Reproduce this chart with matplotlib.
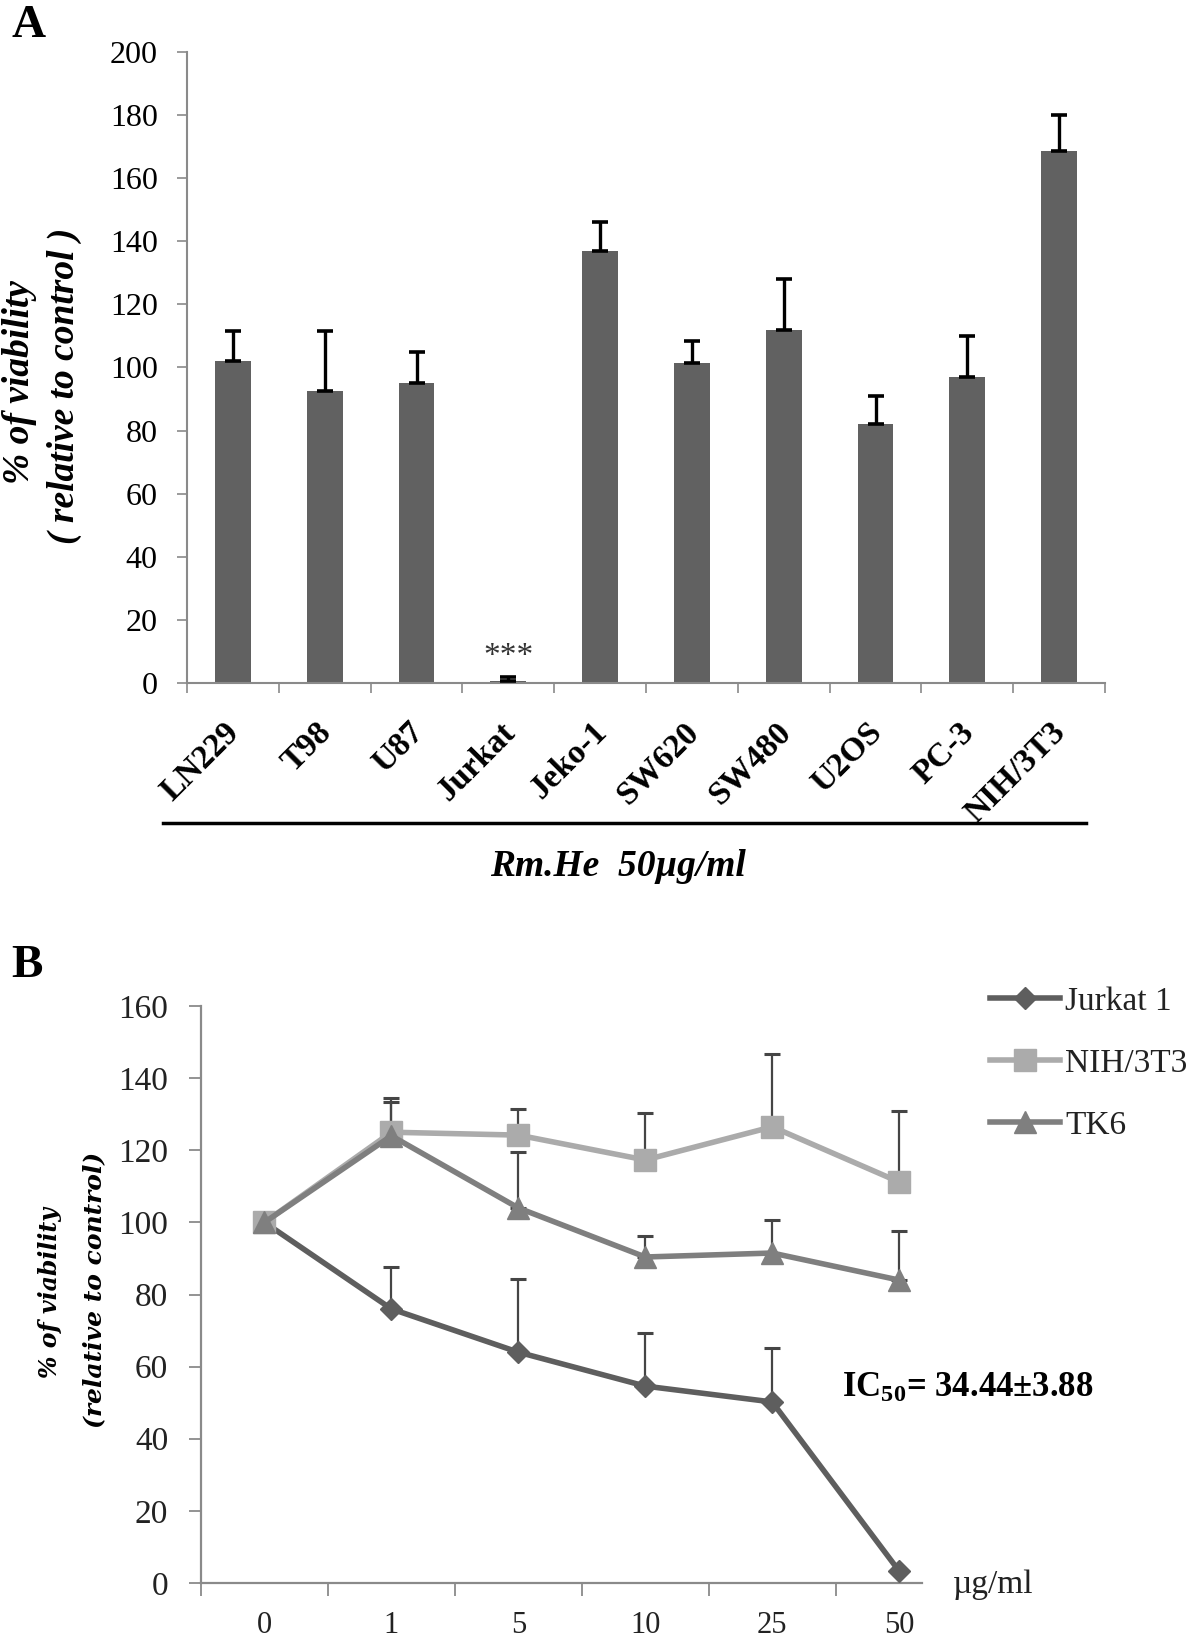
import matplotlib
matplotlib.use("Agg")
import matplotlib.pyplot as plt
import matplotlib.transforms as mtransforms
from matplotlib.lines import Line2D
import numpy as np

plt.rcParams['font.family'] = ['Liberation Serif', 'DejaVu Serif']
plt.rcParams['mathtext.fontset'] = 'custom'
plt.rcParams['mathtext.rm'] = 'Liberation Serif:bold'
plt.rcParams['mathtext.it'] = 'Liberation Serif:bold'
plt.rcParams['mathtext.bf'] = 'Liberation Serif:bold'
plt.rcParams['mathtext.default'] = 'rm'

# ---------------- Data: panel A ----------------
cell_lines = ["LN229", "T98", "U87", "Jurkat", "Jeko-1", "SW620", "SW480", "U2OS", "PC-3", "NIH/3T3"]
viability_a = [102, 92.5, 95, 0.5, 137, 101.5, 112, 82, 97, 168.5]
sd_a = [9.5, 19, 10, 1.5, 9, 7, 16, 9, 13, 11.5]
yticks_a = [0, 20, 40, 60, 80, 100, 120, 140, 160, 180, 200]

# ---------------- Data: panel B ----------------
doses = ["0", "1", "5", "10", "25", "50"]
jurkat_b = [100, 76, 64, 54.6, 50.2, 3.3]
jurkat_sd = [0, 11.6, 20.3, 14.7, 15, 0]
nih_b = [100, 125, 124.2, 117.3, 126.5, 111.2]
nih_sd = [0, 9.5, 7.3, 13, 20.2, 19.7]
tk6_b = [100, 124, 104, 90.4, 91.5, 84]
tk6_sd = [0, 9.4, 15.5, 5.8, 9.2, 13.6]
yticks_b = [0, 20, 40, 60, 80, 100, 120, 140, 160]

W, H = 1200, 1641
fig = plt.figure(figsize=(W / 100, H / 100), dpi=100)


def fx(x):
    return x / W


def fy(y):
    return 1 - y / H


spine_col = '#8a8a8a'

# ---------------- Panel A ----------------
axA = fig.add_axes([fx(187), fy(683), (1105 - 187) / W, (683 - 52) / H])
xa = np.arange(len(cell_lines))
axA.bar(xa, viability_a, width=0.39, color='#616161', zorder=2)
axA.errorbar(xa, viability_a, yerr=[np.zeros(len(sd_a)), sd_a], fmt='none',
             ecolor='black', elinewidth=2.4, capsize=5.5, capthick=2.6, zorder=3)
axA.set_xlim(-0.5, len(cell_lines) - 0.5)
axA.set_ylim(0, 200)
axA.set_yticks(yticks_a)
axA.set_yticklabels([str(v) for v in yticks_a], fontsize=23)
for s in ['top', 'right']:
    axA.spines[s].set_visible(False)
for s in ['left', 'bottom']:
    axA.spines[s].set_color(spine_col)
    axA.spines[s].set_linewidth(1.5)
axA.tick_params(axis='y', direction='out', length=7, width=1.2, color=spine_col, pad=14)
axA.set_xticks(xa)
axA.set_xticklabels(cell_lines, rotation=45, ha='right', va='center',
                    rotation_mode='anchor', fontsize=24, fontweight='bold')
axA.tick_params(axis='x', which='major', length=0, pad=32)
axA.set_xticks(np.arange(-0.5, len(cell_lines), 1.0), minor=True)
axA.tick_params(axis='x', which='minor', direction='out', length=7.5, width=1.2, color=spine_col)
off = mtransforms.ScaledTranslation(0.02, 0, fig.dpi_scale_trans)
for lab in axA.get_xticklabels():
    lab.set_transform(lab.get_transform() + off)
axA.text(3, viability_a[3] + sd_a[3] + 1.5, "***", ha='center', va='bottom',
         fontsize=24, color='#333333')

fig.text(fx(20), fy(382), "% of viability", rotation=90, ha='center', va='center',
         fontsize=27, fontweight='bold', fontstyle='italic')
fig.text(fx(64), fy(386), "( relative to control )", rotation=90, ha='center', va='center',
         fontsize=27, fontweight='bold', fontstyle='italic')
fig.add_artist(Line2D([fx(163), fx(1086)], [fy(823), fy(823)], color='black', lw=2.5))
fig.text(fx(618), fy(866), "Rm.He  50µg/ml", ha='center', va='center',
         fontsize=27, fontweight='bold', fontstyle='italic')
fig.text(fx(11), fy(26), "A", ha='left', va='center', fontsize=34, fontweight='bold')

# ---------------- Panel B ----------------
axB = fig.add_axes([fx(201), fy(1583), (922 - 201) / W, (1583 - 1006) / H])
xb = np.arange(len(doses))
ekw = dict(fmt='none', ecolor='#454545', elinewidth=1.6, capsize=6, capthick=2.2, zorder=2)
axB.errorbar(xb, jurkat_b, yerr=[np.zeros(len(xb)), jurkat_sd], **ekw)
axB.errorbar(xb, nih_b, yerr=[np.zeros(len(xb)), nih_sd], **ekw)
axB.errorbar(xb, tk6_b, yerr=[np.zeros(len(xb)), tk6_sd], **ekw)
axB.plot(xb, jurkat_b, color='#5e5e5e', lw=4, marker='D', markersize=11, label='Jurkat 1', zorder=3)
axB.plot(xb, nih_b, color='#ababab', lw=4, marker='s', markersize=16, label='NIH/3T3', zorder=4)
axB.plot(xb, tk6_b, color='#7f7f7f', lw=4, marker='^', markersize=16, label='TK6', zorder=5)
axB.set_xlim(-0.5, 5.18)
axB.set_ylim(0, 160)
axB.set_yticks(yticks_b)
axB.set_yticklabels([str(v) for v in yticks_b], fontsize=24, color='#222222')
for s in ['top', 'right']:
    axB.spines[s].set_visible(False)
for s in ['left', 'bottom']:
    axB.spines[s].set_color(spine_col)
    axB.spines[s].set_linewidth(1.6)
axB.tick_params(axis='y', direction='out', length=8.6, width=1.3, color=spine_col, pad=15)
axB.set_xticks(xb)
axB.set_xticklabels(doses, fontsize=22, color='#222222')
axB.tick_params(axis='x', which='major', length=0, pad=20)
axB.set_xticks(np.arange(-0.5, 5.0, 1.0), minor=True)
axB.tick_params(axis='x', which='minor', direction='out', length=9.5, width=1.3, color=spine_col)

leg = axB.legend(loc='upper left', bbox_to_anchor=(fx(990), fy(986)),
                 bbox_transform=fig.transFigure, frameon=False, fontsize=24,
                 handlelength=2.1, handletextpad=0.15, labelspacing=0.95,
                 borderpad=0, borderaxespad=0)
for t in leg.get_texts():
    t.set_color('#222222')

fig.text(fx(842), fy(1388), "IC$_{50}$= 34.44±3.88", ha='left', va='center',
         fontsize=25, fontweight='bold')
fig.text(fx(953), fy(1585), "µg/ml", ha='left', va='center', fontsize=24, color='#222222')

fig.text(fx(50), fy(1293), "% of viability", rotation=90, ha='center', va='center',
         fontsize=17, fontweight='bold', fontstyle='italic', family='DejaVu Serif')
fig.text(fx(94), fy(1290), "(relative to control)", rotation=90, ha='center', va='center',
         fontsize=18, fontweight='bold', fontstyle='italic', family='DejaVu Serif')
fig.text(fx(11), fy(966), "B", ha='left', va='center', fontsize=34, fontweight='bold')

fig.savefig("out.png", dpi=100)
